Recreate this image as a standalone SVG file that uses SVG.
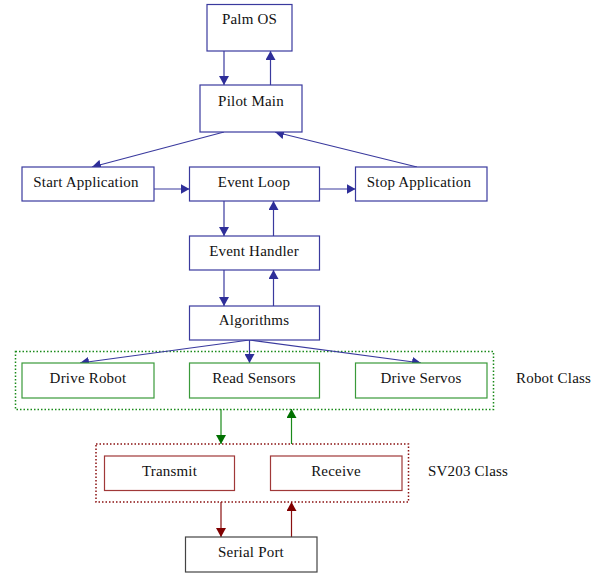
<svg xmlns="http://www.w3.org/2000/svg" width="600" height="579" viewBox="0 0 600 579">
<defs>
<marker id="ab" markerUnits="userSpaceOnUse" markerWidth="10" markerHeight="10" refX="9" refY="5" orient="auto"><path d="M0,0 L9,5 L0,10 z" fill="#2e2e99"/></marker>
<marker id="ag" markerUnits="userSpaceOnUse" markerWidth="10" markerHeight="10" refX="9" refY="5" orient="auto"><path d="M0,0 L9,5 L0,10 z" fill="#007000"/></marker>
<marker id="ar" markerUnits="userSpaceOnUse" markerWidth="10" markerHeight="10" refX="9" refY="5" orient="auto"><path d="M0,0 L9,5 L0,10 z" fill="#800000"/></marker>
</defs>
<style>
text{font-family:"Liberation Serif","Times New Roman",serif;font-size:15px;letter-spacing:0.2px;fill:#111;text-anchor:middle}
.lbl{text-anchor:start}
.bb{fill:#fff;stroke:#3a3a9e;stroke-width:1.2}
.gb{fill:#fff;stroke:#3a9a3a;stroke-width:1.2}
.rb{fill:#fff;stroke:#a03838;stroke-width:1.2}
.kb{fill:#fff;stroke:#444;stroke-width:1.2}
.cb{fill:none;stroke:#3a3a9e;stroke-width:1.2}
.cg{fill:none;stroke:#1a8a1a;stroke-width:1.2}
.cr{fill:none;stroke:#8a1010;stroke-width:1.2}
.gd{fill:none;stroke:#1a8a1a;stroke-width:1.5;stroke-dasharray:1.5 2}
.rd{fill:none;stroke:#8a1010;stroke-width:1.5;stroke-dasharray:1.5 2}
</style>
<rect width="600" height="579" fill="#fff"/>
<g id="robot-class"><rect class="gd" x="15.5" y="351.5" width="478" height="58"/><text class="lbl" x="516" y="383">Robot Class</text></g>
<g id="sv203-class"><rect class="rd" x="96" y="444" width="312.5" height="58"/><text class="lbl" x="428" y="476">SV203 Class</text></g>
<g id="connectors">
<line class="cb" x1="224" y1="51" x2="224" y2="85" marker-end="url(#ab)"/>
<line class="cb" x1="270.5" y1="85" x2="270.5" y2="51" marker-end="url(#ab)"/>
<line class="cb" x1="224" y1="132" x2="92" y2="167" marker-end="url(#ab)"/>
<line class="cb" x1="417" y1="167" x2="275" y2="132" marker-end="url(#ab)"/>
<line class="cb" x1="154" y1="189" x2="189.5" y2="189" marker-end="url(#ab)"/>
<line class="cb" x1="319.5" y1="189" x2="355.5" y2="189" marker-end="url(#ab)"/>
<line class="cb" x1="224" y1="201" x2="224" y2="236" marker-end="url(#ab)"/>
<line class="cb" x1="273.5" y1="236" x2="273.5" y2="201" marker-end="url(#ab)"/>
<line class="cb" x1="224" y1="270" x2="224" y2="306" marker-end="url(#ab)"/>
<line class="cb" x1="273.5" y1="306" x2="273.5" y2="270" marker-end="url(#ab)"/>
<line class="cb" x1="249.5" y1="340" x2="80" y2="363" marker-end="url(#ab)"/>
<line class="cb" x1="249.5" y1="340" x2="249.5" y2="363" marker-end="url(#ab)"/>
<line class="cb" x1="249.5" y1="340" x2="421" y2="363" marker-end="url(#ab)"/>
<line class="cg" x1="221" y1="409" x2="221" y2="444" marker-end="url(#ag)"/>
<line class="cg" x1="291.5" y1="444" x2="291.5" y2="409" marker-end="url(#ag)"/>
<line class="cr" x1="221" y1="502" x2="221" y2="537" marker-end="url(#ar)"/>
<line class="cr" x1="291.5" y1="537" x2="291.5" y2="502" marker-end="url(#ar)"/>
</g>
<g id="palm-os"><rect class="bb" x="207" y="4.5" width="85" height="46.5"/><text x="249.5" y="24">Palm OS</text></g>
<g id="pilot-main"><rect class="bb" x="200" y="85" width="102" height="47"/><text x="251" y="106">Pilot Main</text></g>
<g id="start-application"><rect class="bb" x="22" y="167" width="132" height="34"/><text x="86" y="187">Start Application</text></g>
<g id="event-loop"><rect class="bb" x="189.5" y="167" width="130" height="34"/><text x="254" y="187">Event Loop</text></g>
<g id="stop-application"><rect class="bb" x="355.5" y="167" width="131.5" height="34"/><text x="419" y="187">Stop Application</text></g>
<g id="event-handler"><rect class="bb" x="189.5" y="236" width="130" height="34"/><text x="254" y="256">Event Handler</text></g>
<g id="algorithms"><rect class="bb" x="189.5" y="306" width="130" height="34"/><text x="254" y="325">Algorithms</text></g>
<g id="drive-robot"><rect class="gb" x="22" y="363" width="132" height="35"/><text x="88" y="383">Drive Robot</text></g>
<g id="read-sensors"><rect class="gb" x="189.5" y="363" width="130" height="35"/><text x="254" y="383">Read Sensors</text></g>
<g id="drive-servos"><rect class="gb" x="355.5" y="363" width="131.5" height="35"/><text x="421" y="383">Drive Servos</text></g>
<g id="transmit"><rect class="rb" x="104.5" y="456" width="130" height="34.5"/><text x="169.5" y="476">Transmit</text></g>
<g id="receive"><rect class="rb" x="270.5" y="456" width="131.5" height="34.5"/><text x="336" y="476">Receive</text></g>
<g id="serial-port"><rect class="kb" x="185.5" y="537" width="131.5" height="35"/><text x="251" y="557">Serial Port</text></g>
</svg>
